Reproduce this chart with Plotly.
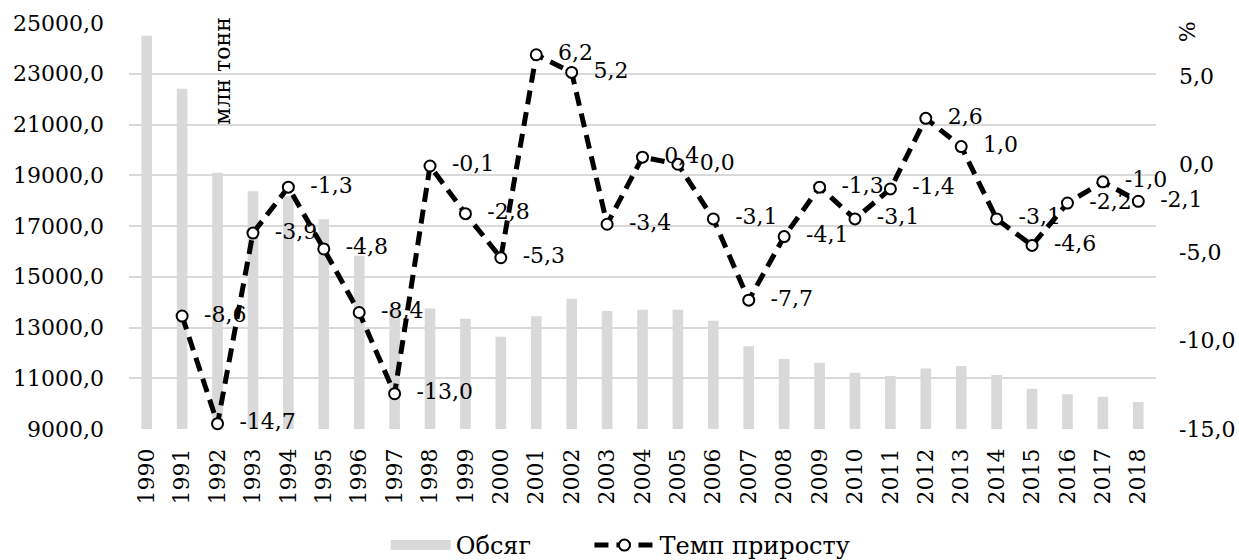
import plotly.graph_objects as go

years = [str(y) for y in range(1990, 2019)]
volume = [24500, 22410, 19100, 18370, 18170, 17270, 15830, 13770, 13745, 13340,
          12640, 13440, 14130, 13650, 13700, 13700, 13270, 12260, 11760, 11610,
          11220, 11090, 11380, 11480, 11130, 10590, 10370, 10270, 10060]
growth = [None, -8.6, -14.7, -3.9, -1.3, -4.8, -8.4, -13.0, -0.1, -2.8,
          -5.3, 6.2, 5.2, -3.4, 0.4, 0.0, -3.1, -7.7, -4.1, -1.3,
          -3.1, -1.4, 2.6, 1.0, -3.1, -4.6, -2.2, -1.0, -2.1]
left_ticks = [9000, 11000, 13000, 15000, 17000, 19000, 21000, 23000, 25000]
right_ticks = [-15, -10, -5, 0, 5]

FONT = "DejaVu Serif"
FS = 22
BAR_COLOR = "#d9d9d9"
NB = "\u00a0"

def fmt(v):
    return f"{v:.1f}".replace(".", ",")

labels = ["" if g is None else NB * 2 + fmt(g) for g in growth]

fig = go.Figure()
fig.add_trace(go.Bar(
    x=years, y=volume, name="Обсяг", showlegend=False,
    marker=dict(color=BAR_COLOR, line=dict(width=0)),
    yaxis="y",
))
# legend entry for the bars (wide flat swatch like the original)
fig.add_trace(go.Scatter(
    x=[None], y=[None], name="Обсяг" + NB * 7, mode="lines",
    line=dict(color=BAR_COLOR, width=15), legendrank=1,
))
fig.add_trace(go.Scatter(
    x=years, y=growth, name="Темп приросту", yaxis="y2",
    mode="lines+markers+text", legendrank=2,
    line=dict(color="black", width=5, dash="14px,8px"),
    marker=dict(symbol="circle", size=11, color="white",
                line=dict(color="black", width=2)),
    text=labels, textposition="middle right",
    textfont=dict(family=FONT, size=FS, color="black"),
    cliponaxis=False,
))

fig.update_layout(
    width=1239, height=560,
    margin=dict(l=129, r=83, t=23, b=131, autoexpand=False),
    plot_bgcolor="white", paper_bgcolor="white",
    font=dict(family=FONT, size=FS, color="black"),
    bargap=0.7,
    showlegend=True,
    legend=dict(orientation="h", x=0.25, xanchor="left", y=-0.287, yanchor="middle",
                font=dict(family=FONT, size=24, color="black"),
                itemwidth=60, traceorder="normal"),
    xaxis=dict(type="category", range=[-0.5, len(years) - 0.5],
               tickangle=-90, showgrid=False, showline=False,
               ticks="", ticklabelstandoff=14, automargin=False,
               tickfont=dict(family=FONT, size=FS)),
    yaxis=dict(range=[9000, 25000], tickvals=left_ticks,
               ticktext=[f"{v},0" for v in left_ticks],
               showgrid=True, gridcolor=BAR_COLOR, gridwidth=1.5,
               zeroline=False, showline=False, ticks="", ticklabelstandoff=24,
               automargin=False, tickfont=dict(family=FONT, size=FS)),
    yaxis2=dict(range=[-15, 8], overlaying="y", side="right",
                tickvals=right_ticks, ticktext=[fmt(v) for v in right_ticks],
                showgrid=False, zeroline=False, showline=False, ticks="",
                ticklabelstandoff=22, automargin=False,
                tickfont=dict(family=FONT, size=FS)),
    annotations=[
        dict(text="млн тонн", xref="paper", yref="paper", x=0.0915, y=0.8825,
             xanchor="center", yanchor="middle",
             textangle=-90, showarrow=False, font=dict(family=FONT, size=FS)),
        dict(text="%", xref="paper", yref="paper", x=1.031, y=0.979,
             xanchor="center", yanchor="middle",
             textangle=-90, showarrow=False, font=dict(family=FONT, size=FS)),
    ],
)

fig.write_html("out.html", config={"displayModeBar": False},
               post_script="document.body.style.margin='0';")
